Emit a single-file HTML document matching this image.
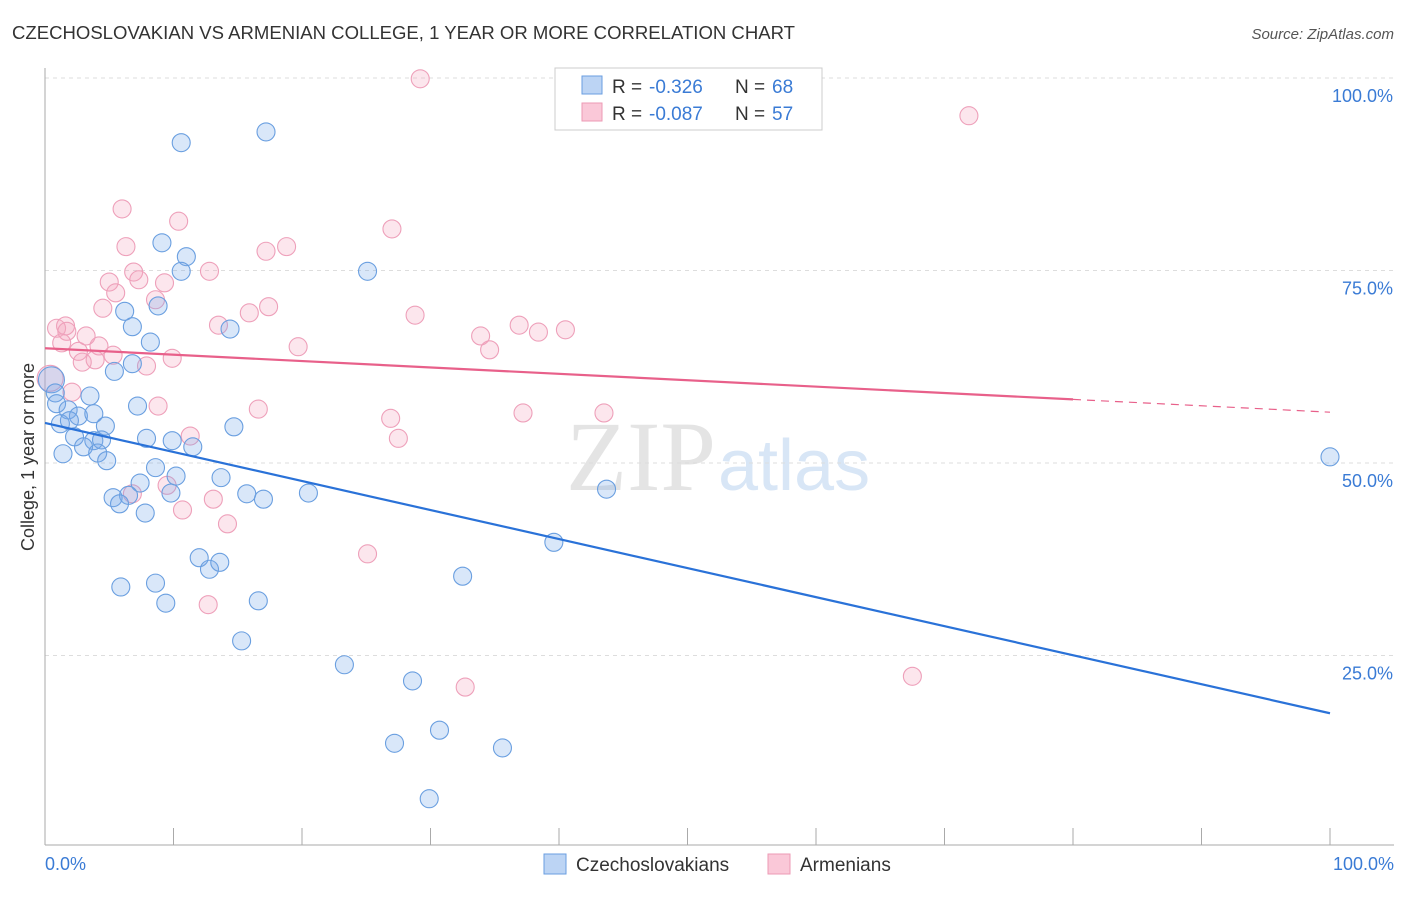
<!DOCTYPE html>
<html><head><meta charset="utf-8"><style>
body{margin:0;background:#fff;font-family:"Liberation Sans",sans-serif}
</style></head><body>
<svg id="c" width="1406" height="892" xmlns="http://www.w3.org/2000/svg">
<text x="12" y="39" font-size="18" fill="#333" textLength="783" lengthAdjust="spacingAndGlyphs">CZECHOSLOVAKIAN VS ARMENIAN COLLEGE, 1 YEAR OR MORE CORRELATION CHART</text>
<text x="1394" y="39" font-size="15" fill="#555" font-style="italic" text-anchor="end">Source: ZipAtlas.com</text>
<text x="716" y="490" font-size="100" fill="#e4e4e4" font-family="Liberation Serif,serif" text-anchor="end">ZIP</text>
<text x="718" y="490" font-size="72" fill="#d8e6f6">atlas</text>
<text transform="translate(34,457) rotate(-90)" font-size="18" fill="#333" text-anchor="middle">College, 1 year or more</text>
<g id="grid"></g><g id="marks"></g>
<g>
<rect x="555" y="68" width="267" height="62" fill="#fff" stroke="#ccc"/>
<rect x="582" y="76" width="20" height="18" fill="#bcd4f4" stroke="#6a9ee0"/>
<rect x="582" y="103" width="20" height="18" fill="#fac8d8" stroke="#ec9ab4"/>
<text x="612" y="93" font-size="19" fill="#333">R =</text><text x="649" y="93" font-size="19" fill="#3a7bd5">-0.326</text>
<text x="735" y="93" font-size="19" fill="#333">N =</text><text x="772" y="93" font-size="19" fill="#3a7bd5">68</text>
<text x="612" y="120" font-size="19" fill="#333">R =</text><text x="649" y="120" font-size="19" fill="#3a7bd5">-0.087</text>
<text x="735" y="120" font-size="19" fill="#333">N =</text><text x="772" y="120" font-size="19" fill="#3a7bd5">57</text>
</g>
<g>
<rect x="544" y="854" width="22" height="20" fill="#bcd4f4" stroke="#6a9ee0"/>
<text x="576" y="871" font-size="19" fill="#333">Czechoslovakians</text>
<rect x="768" y="854" width="22" height="20" fill="#fac8d8" stroke="#ec9ab4"/>
<text x="800" y="871" font-size="19" fill="#333">Armenians</text>
</g>
</svg>
<script>
const yTicks=[25,50,75,100];
const xTickCount=10;
const blueX=[10.6,17.2,9.1,11.0,10.6,25.1,8.8,6.2,6.8,14.4,8.2,5.4,6.8,0.5,0.8,3.5,0.9,7.2,1.8,2.6,3.8,1.2,1.9,4.7,14.7,2.3,7.9,3.8,4.4,9.9,3.0,11.5,1.4,4.1,4.8,8.6,10.2,13.7,7.4,6.5,5.3,9.8,15.7,17.0,20.5,5.8,7.8,43.7,39.6,100,12.0,12.8,13.6,8.6,5.9,32.5,16.6,9.4,15.3,23.3,28.6,30.7,27.2,35.6,29.9];
const blueY=[91.6,93.0,78.6,76.8,74.9,74.9,70.4,69.7,67.7,67.4,65.7,61.9,62.9,60.8,59.1,58.7,57.7,57.4,56.9,56.1,56.4,55.1,55.5,54.8,54.7,53.4,53.2,52.9,53.0,52.9,52.1,52.1,51.2,51.3,50.3,49.4,48.3,48.1,47.4,45.8,45.5,46.1,46.0,45.3,46.1,44.7,43.5,46.6,39.7,50.8,37.7,36.2,37.1,34.4,33.9,35.3,32.1,31.8,26.9,23.8,21.7,15.3,13.6,13.0,6.4];
const pinkX=[29.2,71.9,6.0,10.4,27.0,6.3,17.2,18.8,6.9,12.8,5.0,7.3,9.3,5.5,8.6,4.5,17.4,15.9,28.8,0.9,1.6,13.5,36.9,38.4,40.5,1.7,3.2,33.9,1.3,19.7,4.2,2.6,34.6,5.3,9.9,3.9,2.9,7.9,0.4,2.1,8.8,16.6,37.2,43.5,26.9,11.3,27.5,6.8,9.5,13.1,10.7,14.2,25.1,12.7,67.5,32.7];
const pinkY=[99.9,95.1,83.0,81.4,80.4,78.1,77.5,78.1,74.8,74.9,73.5,73.8,73.4,72.1,71.2,70.1,70.3,69.5,69.2,67.5,67.8,67.9,67.9,67.0,67.3,67.1,66.5,66.5,65.6,65.1,65.2,64.5,64.7,64.0,63.6,63.4,63.1,62.6,61.0,59.2,57.4,57.0,56.5,56.5,55.8,53.5,53.2,46.0,47.1,45.3,43.9,42.1,38.2,31.6,22.3,20.9];
const blueTrend=[55.2,17.5];
const pinkTrend=[64.9,56.6];
const pinkSolidEnd=80;
const NS="http://www.w3.org/2000/svg";
const sx=v=>45+v*12.85, sy=v=>848-v*7.7;
function mk(t,a,p){const e=document.createElementNS(NS,t);for(const k in a)e.setAttribute(k,a[k]);p.appendChild(e);return e;}
const g=document.getElementById('grid'),m=document.getElementById('marks');
for(const t of yTicks){
 const l=mk('line',{x1:45,x2:1394,y1:sy(t),y2:sy(t),stroke:'#ddd','stroke-dasharray':'4,4'},g);
 
 
 const tx=mk('text',{x:1393,y:sy(t)+24,'font-size':18,fill:'#3a7bd5','text-anchor':'end'},g);tx.textContent=t.toFixed(1)+'%';
 
 
}
const ax=mk('line',{x1:45,x2:45,y1:68,y2:845,stroke:'#aaa'},g);


const bx=mk('line',{x1:45,x2:1394,y1:845,y2:845,stroke:'#aaa'},g);


for(let i=0;i<=xTickCount;i++){const x=sx(i*100/xTickCount);const t=mk('line',{x1:x,x2:x,y1:828,y2:845,stroke:'#aaa'},g);
 
 }
const x0=mk('text',{x:45,y:870,'font-size':18,fill:'#3a7bd5'},g);x0.textContent='0.0%';


const x1=mk('text',{x:1394,y:870,'font-size':18,fill:'#3a7bd5','text-anchor':'end'},g);x1.textContent='100.0%';


function pts(X,Y,fill,stroke,name,bigR){X.forEach((x,i)=>{const r=(i===bigR)?13:9;const c=mk('circle',{cx:sx(x),cy:sy(Y[i]),r:r,fill:fill,stroke:stroke,'stroke-width':1.1},m);
 
 });}
pts(pinkX,pinkY,'rgba(244,165,192,0.28)','#eea0ba','armenian-point',38);
pts(blueX,blueY,'rgba(120,170,235,0.28)','#6a9fe0','czech-point',13);
const bl=mk('line',{x1:sx(0),y1:sy(blueTrend[0]),x2:sx(100),y2:sy(blueTrend[1]),stroke:'#2a72d8','stroke-width':2.2},m);


const pe=pinkTrend[0]+(pinkTrend[1]-pinkTrend[0])*pinkSolidEnd/100;
const pl=mk('line',{x1:sx(0),y1:sy(pinkTrend[0]),x2:sx(pinkSolidEnd),y2:sy(pe),stroke:'#e8608a','stroke-width':2.2},m);


const pd=mk('line',{x1:sx(pinkSolidEnd),y1:sy(pe),x2:sx(100),y2:sy(pinkTrend[1]),stroke:'#e8608a','stroke-width':1.2,'stroke-dasharray':'8,6'},m);


</script>
</body></html>
